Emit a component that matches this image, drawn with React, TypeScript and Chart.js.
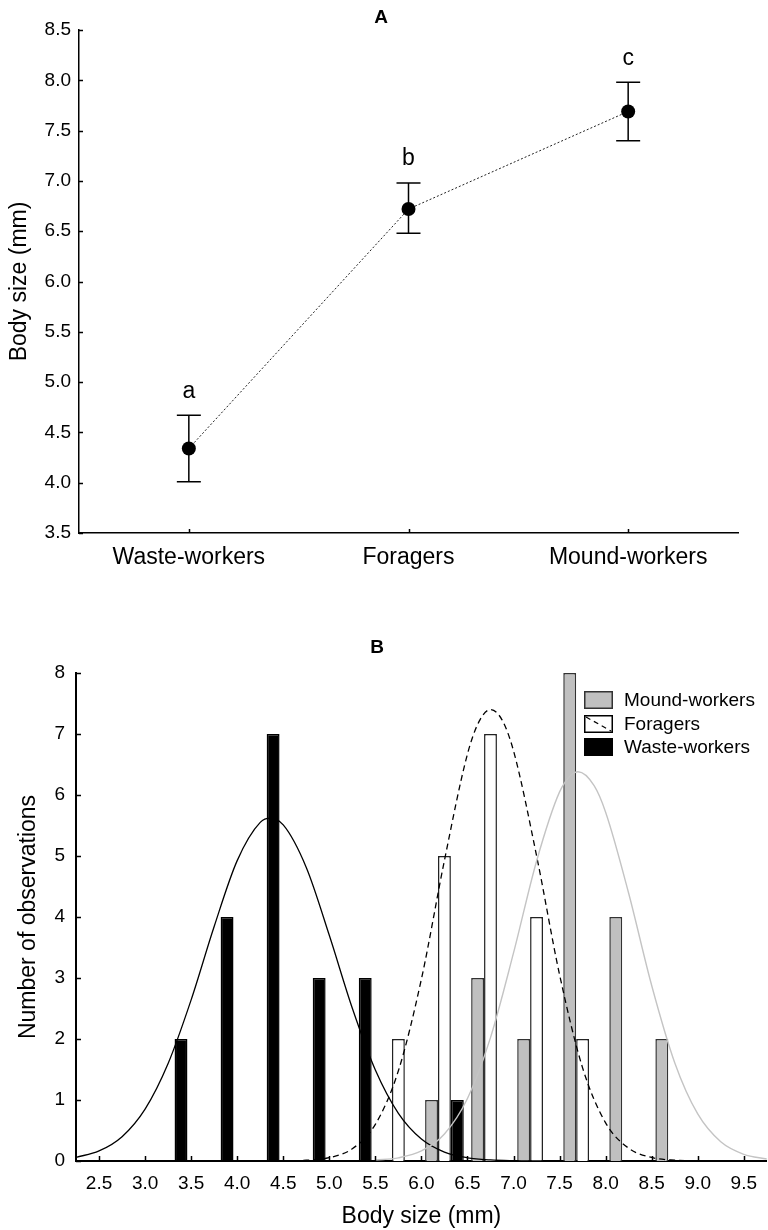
import React, { useEffect, useRef } from 'react';
import { Chart, registerables } from 'chart.js';

Chart.register(...registerables);

const FONT = '"Liberation Sans", Arial, Helvetica, sans-serif';
Chart.defaults.font.family = FONT;
Chart.defaults.color = '#000';

// ---------- Panel A data ----------
const groups = ['Waste-workers', 'Foragers', 'Mound-workers'];
const groupMeans = [4.34, 6.72, 7.69];
const groupLower = [4.01, 6.48, 7.4];
const groupUpper = [4.67, 6.98, 7.98];
const groupLetters = ['a', 'b', 'c'];
const panelAYTicks = [3.5, 4.0, 4.5, 5.0, 5.5, 6.0, 6.5, 7.0, 7.5, 8.0, 8.5];

// ---------- Panel B data ----------
const moundBins = [6.25, 6.75, 7.25, 7.75, 8.25, 8.75];
const moundCounts = [1, 3, 2, 8, 4, 2];
const foragerBins = [5.75, 6.25, 6.75, 7.25, 7.75];
const foragerCounts = [2, 5, 7, 4, 2];
const wasteBins = [3.25, 3.75, 4.25, 4.75, 5.25, 6.25];
const wasteCounts = [2, 4, 7, 3, 3, 1];

const wasteCurveX = [2.25, 2.5, 2.75, 3.0, 3.25, 3.5, 3.75, 4.0, 4.25, 4.36, 4.5, 4.75, 5.0, 5.25, 5.5, 5.75, 6.0, 6.25, 6.5, 6.75, 7.0, 7.25, 7.5];
const wasteCurveY = [0.06, 0.165, 0.399, 0.851, 1.599, 2.642, 3.845, 4.924, 5.551, 5.62, 5.509, 4.812, 3.7, 2.504, 1.492, 0.782, 0.361, 0.147, 0.053, 0.017, 0.005, 0.001, 0];
const foragerCurveX = [4.5, 4.75, 5.0, 5.25, 5.5, 5.75, 6.0, 6.25, 6.5, 6.625, 6.75, 6.875, 7.0, 7.25, 7.5, 7.75, 8.0, 8.25, 8.5, 8.75, 9.0];
const foragerCurveY = [0.002, 0.012, 0.055, 0.2, 0.601, 1.479, 2.982, 4.928, 6.671, 7.203, 7.4, 7.232, 6.724, 5.007, 3.054, 1.527, 0.625, 0.21, 0.058, 0.013, 0.002];
const moundCurveX = [5.5, 5.75, 6.0, 6.25, 6.5, 6.75, 7.0, 7.25, 7.5, 7.625, 7.7, 7.875, 8.0, 8.25, 8.5, 8.75, 9.0, 9.25, 9.5, 9.75];
const moundCurveY = [0.014, 0.052, 0.164, 0.443, 1.025, 2.023, 3.411, 4.915, 6.051, 6.329, 6.38, 6.152, 5.718, 4.389, 2.877, 1.612, 0.771, 0.315, 0.11, 0.033];

const panelBXTicks = [2.5, 3.0, 3.5, 4.0, 4.5, 5.0, 5.5, 6.0, 6.5, 7.0, 7.5, 8.0, 8.5, 9.0, 9.5];
const panelBYTicks = [0, 1, 2, 3, 4, 5, 6, 7, 8];

const legendLabels = ['Mound-workers', 'Foragers', 'Waste-workers'];

// ---------- plugins ----------
const inwardTicks = (len: number, width: number) => ({
  id: 'inwardTicks',
  afterDraw(chart: any) {
    const ctx = chart.ctx;
    const xs = chart.scales.x;
    const ys = chart.scales.y;
    ctx.save();
    ctx.strokeStyle = '#000';
    ctx.lineWidth = width;
    ctx.beginPath();
    xs.ticks.forEach((_t: any, i: number) => {
      const px = Math.round(xs.getPixelForTick(i)) + 0.5;
      ctx.moveTo(px, xs.top);
      ctx.lineTo(px, xs.top - len);
    });
    ys.ticks.forEach((_t: any, i: number) => {
      const py = Math.round(ys.getPixelForTick(i)) + 0.5;
      ctx.moveTo(ys.right, py);
      ctx.lineTo(ys.right + len, py);
    });
    ctx.stroke();
    ctx.restore();
  },
});

const panelTitle = (text: string, x: number, y: number) => ({
  id: 'panelTitle',
  afterDraw(chart: any) {
    const ctx = chart.ctx;
    ctx.save();
    ctx.font = `bold 19px ${FONT}`;
    ctx.fillStyle = '#000';
    ctx.textAlign = 'center';
    ctx.textBaseline = 'middle';
    ctx.fillText(text, x, y);
    ctx.restore();
  },
});

const errorBars = {
  id: 'errorBars',
  beforeDatasetsDraw(chart: any) {
    const ctx = chart.ctx;
    const xs = chart.scales.x;
    const ys = chart.scales.y;
    ctx.save();
    ctx.strokeStyle = '#000';
    ctx.lineWidth = 1.5;
    groups.forEach((_g, i) => {
      const x = xs.getPixelForValue(i);
      const yt = ys.getPixelForValue(groupUpper[i]);
      const yb = ys.getPixelForValue(groupLower[i]);
      ctx.beginPath();
      ctx.moveTo(x, yt);
      ctx.lineTo(x, yb);
      ctx.moveTo(x - 12, yt);
      ctx.lineTo(x + 12, yt);
      ctx.moveTo(x - 12, yb);
      ctx.lineTo(x + 12, yb);
      ctx.stroke();
    });
    ctx.restore();
  },
  afterDatasetsDraw(chart: any) {
    const ctx = chart.ctx;
    const xs = chart.scales.x;
    const ys = chart.scales.y;
    ctx.save();
    ctx.font = `23px ${FONT}`;
    ctx.fillStyle = '#000';
    ctx.textAlign = 'center';
    ctx.textBaseline = 'middle';
    groups.forEach((_g, i) => {
      const x = xs.getPixelForValue(i);
      const yt = ys.getPixelForValue(groupUpper[i]);
      ctx.fillText(groupLetters[i], x, yt - 24);
    });
    ctx.restore();
  },
};

const histLegend = {
  id: 'histLegend',
  afterDraw(chart: any) {
    const ctx = chart.ctx;
    const bx = 584;
    const bw = 29;
    const bh = 18;
    const tops = [91, 115, 138];
    ctx.save();
    ctx.font = `19px ${FONT}`;
    ctx.textBaseline = 'middle';
    ctx.textAlign = 'left';
    legendLabels.forEach((label, i) => {
      const t = tops[i];
      ctx.lineWidth = 1.5;
      if (i === 0) {
        ctx.fillStyle = '#c0c0c0';
        ctx.fillRect(bx, t, bw, bh);
        ctx.strokeStyle = '#333';
        ctx.strokeRect(bx + 0.75, t + 0.75, bw - 1.5, bh - 1.5);
      } else if (i === 1) {
        ctx.fillStyle = '#fff';
        ctx.fillRect(bx, t, bw, bh);
        ctx.strokeStyle = '#000';
        ctx.strokeRect(bx + 0.75, t + 0.75, bw - 1.5, bh - 1.5);
        ctx.beginPath();
        ctx.setLineDash([5, 4]);
        ctx.lineWidth = 1.2;
        ctx.moveTo(bx + 2, t + 2);
        ctx.lineTo(bx + bw - 2, t + bh - 2);
        ctx.stroke();
        ctx.setLineDash([]);
      } else {
        ctx.fillStyle = '#000';
        ctx.fillRect(bx, t, bw, bh);
      }
      ctx.fillStyle = '#000';
      ctx.fillText(label, bx + bw + 11, t + bh / 2 + 1);
    });
    ctx.restore();
  },
};

// ---------- configs ----------
function configA(): any {
  return {
    type: 'line',
    data: {
      labels: groups,
      datasets: [
        {
          data: groupMeans,
          borderColor: '#222',
          borderWidth: 1,
          borderDash: [2, 2],
          pointRadius: 7,
          pointBackgroundColor: '#000',
          pointBorderColor: '#000',
          pointBorderWidth: 0,
          tension: 0,
          fill: false,
        },
      ],
    },
    options: {
      responsive: false,
      animation: false,
      devicePixelRatio: 1,
      layout: { padding: { top: 30, right: 30, left: 0, bottom: 0 } },
      plugins: { legend: { display: false }, tooltip: { enabled: false }, title: { display: false } },
      scales: {
        x: {
          type: 'category',
          offset: true,
          grid: { display: false, drawTicks: false },
          border: { display: true, color: '#000', width: 1.5 },
          ticks: { padding: 11, color: '#000', font: { size: 23, family: FONT }, maxRotation: 0, autoSkip: false },
          afterFit: (s: any) => {
            s.height = 67;
          },
        },
        y: {
          type: 'linear',
          min: 3.5,
          max: 8.5,
          grid: { display: false, drawTicks: false },
          border: { display: true, color: '#000', width: 1.5 },
          afterBuildTicks: (s: any) => {
            s.ticks = panelAYTicks.map((v) => ({ value: v }));
          },
          ticks: {
            padding: 8,
            color: '#000',
            font: { size: 19, family: FONT },
            callback: (v: any) => Number(v).toFixed(1),
          },
          title: {
            display: true,
            text: 'Body size (mm)',
            color: '#000',
            font: { size: 23, family: FONT },
            padding: { top: 6, bottom: 0 },
          },
          afterFit: (s: any) => {
            s.width = 79;
          },
        },
      },
    },
    plugins: [errorBars, inwardTicks(4, 1.5), panelTitle('A', 381, 18)],
  };
}

function configB(): any {
  const toPts = (xs: number[], ys: number[]) => xs.map((x, i) => ({ x, y: ys[i] }));
  const barCommon = {
    type: 'bar',
    borderWidth: 1.5,
    categoryPercentage: 0.84,
    barPercentage: 1,
    order: 1,
  };
  const lineCommon = {
    type: 'line',
    pointRadius: 0,
    fill: false,
    cubicInterpolationMode: 'monotone',
    order: 0,
  };
  return {
    type: 'bar',
    data: {
      datasets: [
        { ...barCommon, label: 'Mound-workers', data: toPts(moundBins, moundCounts), backgroundColor: '#c0c0c0', borderColor: '#333' },
        { ...barCommon, label: 'Foragers', data: toPts(foragerBins, foragerCounts), backgroundColor: '#fff', borderColor: '#222' },
        { ...barCommon, label: 'Waste-workers', data: toPts(wasteBins, wasteCounts), backgroundColor: '#000', borderColor: '#000' },
        { ...lineCommon, label: 'Mound curve', data: toPts(moundCurveX, moundCurveY), borderColor: '#c4c4c4', borderWidth: 1.4 },
        { ...lineCommon, label: 'Forager curve', data: toPts(foragerCurveX, foragerCurveY), borderColor: '#000', borderWidth: 1.3, borderDash: [6, 4] },
        { ...lineCommon, label: 'Waste curve', data: toPts(wasteCurveX, wasteCurveY), borderColor: '#000', borderWidth: 1.3 },
      ],
    },
    options: {
      responsive: false,
      animation: false,
      devicePixelRatio: 1,
      layout: { padding: { top: 73, right: 0, left: 0, bottom: 0 } },
      plugins: { legend: { display: false }, tooltip: { enabled: false }, title: { display: false } },
      scales: {
        x: {
          type: 'linear',
          min: 2.25,
          max: 9.75,
          offset: false,
          grid: { display: false, drawTicks: false },
          border: { display: true, color: '#000', width: 2 },
          afterBuildTicks: (s: any) => {
            s.ticks = panelBXTicks.map((v) => ({ value: v }));
          },
          ticks: {
            padding: 11,
            color: '#000',
            font: { size: 19, family: FONT },
            maxRotation: 0,
            autoSkip: false,
            callback: (v: any) => Number(v).toFixed(1),
          },
          title: {
            display: true,
            text: 'Body size (mm)',
            color: '#000',
            font: { size: 23, family: FONT },
            padding: { top: 0, bottom: 0 },
          },
          afterFit: (s: any) => {
            s.height = 69;
          },
        },
        y: {
          type: 'linear',
          min: 0,
          max: 8,
          grid: { display: false, drawTicks: false },
          border: { display: true, color: '#000', width: 2 },
          afterBuildTicks: (s: any) => {
            s.ticks = panelBYTicks.map((v) => ({ value: v }));
          },
          ticks: { padding: 11, color: '#000', font: { size: 19, family: FONT } },
          title: {
            display: true,
            text: 'Number of observations',
            color: '#000',
            font: { size: 23, family: FONT },
            padding: { top: 15, bottom: 0 },
          },
          afterFit: (s: any) => {
            s.width = 76;
          },
        },
      },
    },
    plugins: [inwardTicks(5, 1.5), histLegend, panelTitle('B', 377, 48)],
  };
}

function ChartCanvas({ make, top, height }: { make: () => any; top: number; height: number }) {
  const ref = useRef<HTMLCanvasElement>(null);
  useEffect(() => {
    if (!ref.current) return;
    const chart = new Chart(ref.current, make());
    return () => chart.destroy();
  }, [make]);
  return (
    <canvas
      ref={ref}
      width={768}
      height={height}
      style={{ position: 'absolute', left: 0, top, width: 768, height, display: 'block' }}
    />
  );
}

export default function App() {
  return (
    <div style={{ position: 'absolute', left: 0, top: 0, width: 768, height: 1230, background: '#fff', overflow: 'hidden' }}>
      <ChartCanvas make={configA} top={0} height={600} />
      <ChartCanvas make={configB} top={600} height={630} />
    </div>
  );
}
